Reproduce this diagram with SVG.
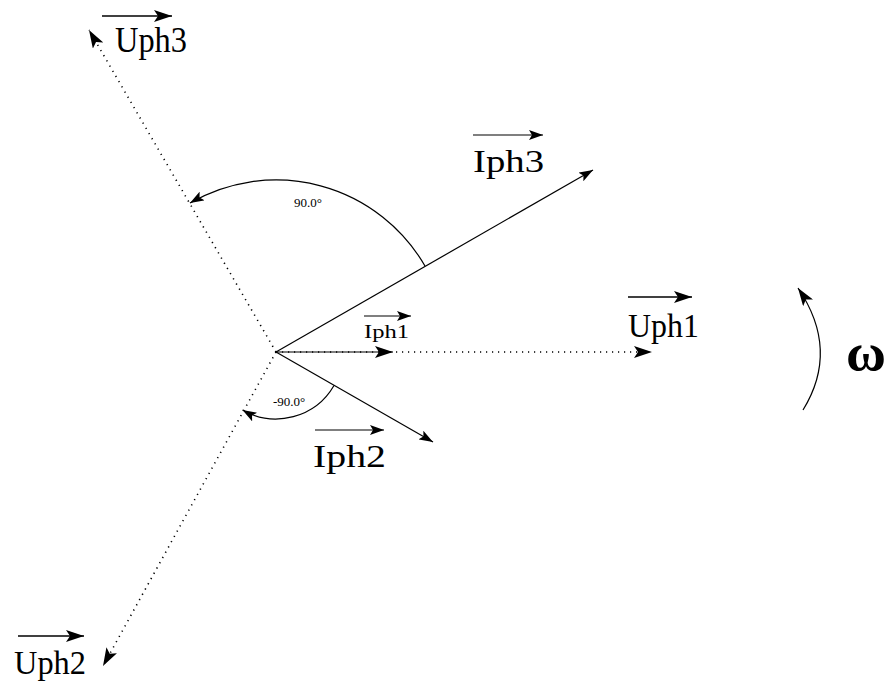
<svg xmlns="http://www.w3.org/2000/svg" width="887" height="689" viewBox="0 0 887 689">
<style>
.t{font-family:"Liberation Serif","DejaVu Serif",serif;fill:#000}
.s{stroke:#000;stroke-width:1.2;fill:none}
.d{stroke:#000;stroke-width:1.6;fill:none;stroke-dasharray:1.2 4.8}
.o{stroke:#000;stroke-width:1.5;fill:none}
</style>
<defs>
<marker id="ah" markerUnits="userSpaceOnUse" markerWidth="20" markerHeight="12" refX="18" refY="6" orient="auto">
<path d="M0,0 L18,6 L0,12 L4,6 z" fill="#000"/>
</marker>
<marker id="ahs" markerUnits="userSpaceOnUse" markerWidth="16" markerHeight="10" refX="14" refY="5" orient="auto">
<path d="M0,0 L14,5 L0,10 L3,5 z" fill="#000"/>
</marker>
</defs>
<g id="connectors">
<line id="uph1" class="d" x1="276" y1="352" x2="652" y2="352" marker-end="url(#ah)"/>
<line id="uph3" class="d" x1="276" y1="352" x2="89" y2="30" marker-end="url(#ah)"/>
<line id="uph2" class="d" x1="276" y1="352" x2="103" y2="666" marker-end="url(#ah)"/>
<line id="iph1" class="s" x1="276" y1="352" x2="393" y2="352" marker-end="url(#ah)"/>
<line id="iph3" class="s" x1="276" y1="352" x2="593" y2="170" marker-end="url(#ahs)"/>
<line id="iph2" class="s" x1="276" y1="352" x2="433" y2="442" marker-end="url(#ahs)"/>
<path id="arc90" class="s" d="M425,266 A172,172 0 0,0 190,203" marker-end="url(#ahs)"/>
<path id="arcm90" class="s" d="M334,385.5 A67,67 0 0,1 242.5,410" marker-end="url(#ahs)"/>
<path id="rot" class="s" d="M803,410 Q840,350 798,288" marker-end="url(#ah)"/>
</g>
<g id="label-uph3">
<line class="o" x1="102" y1="16" x2="172" y2="16" marker-end="url(#ah)"/>
<text class="t" x="115" y="52" font-size="35" textLength="72" lengthAdjust="spacingAndGlyphs">Uph3</text>
</g>
<g id="label-iph3">
<line class="s" x1="473" y1="135" x2="543" y2="135" marker-end="url(#ahs)"/>
<text class="t" x="473" y="172" font-size="32" textLength="71" lengthAdjust="spacingAndGlyphs">Iph3</text>
</g>
<g id="label-iph1">
<line class="s" x1="364" y1="316" x2="411" y2="316" marker-end="url(#ahs)"/>
<text class="t" x="364" y="338" font-size="19" textLength="45" lengthAdjust="spacingAndGlyphs">Iph1</text>
</g>
<g id="label-uph1">
<line class="o" x1="628" y1="297" x2="692" y2="297" marker-end="url(#ah)"/>
<text class="t" x="628" y="337" font-size="34" textLength="71" lengthAdjust="spacingAndGlyphs">Uph1</text>
</g>
<g id="label-iph2">
<line class="s" x1="315" y1="430" x2="384" y2="430" marker-end="url(#ahs)"/>
<text class="t" x="313" y="467" font-size="32" textLength="73" lengthAdjust="spacingAndGlyphs">Iph2</text>
</g>
<g id="label-uph2">
<line class="o" x1="18" y1="636" x2="84" y2="636" marker-end="url(#ah)"/>
<text class="t" x="14" y="674" font-size="34" textLength="72" lengthAdjust="spacingAndGlyphs">Uph2</text>
</g>
<g id="label-angle90">
<text class="t" x="294" y="207" font-size="13">90.0°</text>
</g>
<g id="label-anglem90">
<text class="t" x="273" y="406" font-size="13">-90.0°</text>
</g>
<g id="label-omega">
<text class="t" x="846" y="370" font-size="52" font-weight="bold" textLength="40" lengthAdjust="spacingAndGlyphs">ω</text>
</g>
</svg>
